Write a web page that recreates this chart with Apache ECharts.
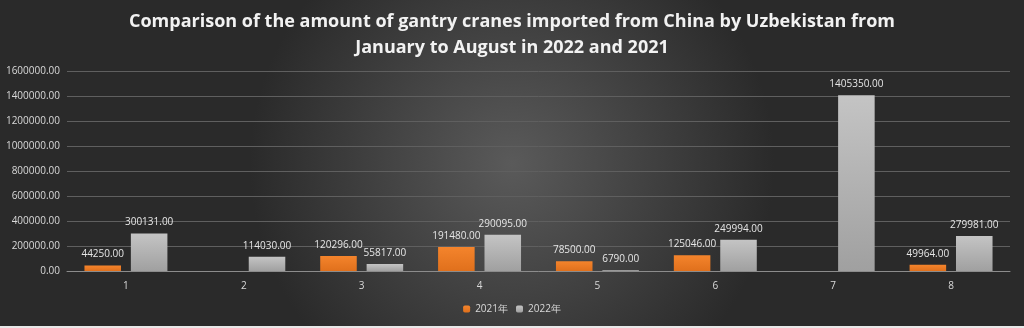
<!DOCTYPE html>
<html>
<head>
<meta charset="utf-8">
<script src="https://cdn.jsdelivr.net/npm/echarts@6/dist/echarts.min.js"></script>
<style>
  html, body { margin: 0; padding: 0; }
  #chart { width: 1024px; height: 328px; }
</style>
</head>
<body>
<div id="chart"></div>
<script>
// Monthly import amounts (January–August)
const months = ['1', '2', '3', '4', '5', '6', '7', '8'];
const values2021 = [44250, null, 120296, 191480, 78500, 125046, null, 49964];
const values2022 = [300131, 114030, 55817, 290095, 6790, 249994, 1405350, 279981];
const seriesNames = ['2021年', '2022年'];

const chart = echarts.init(document.getElementById('chart'));

const labelStyle = {
  show: true,
  position: 'top',
  distance: 6,
  color: '#e6e6e6',
  fontSize: 10,
  fontFamily: 'Open Sans',
  formatter: p => p.value == null ? '' : Number(p.value).toFixed(2)
};

chart.setOption({
  backgroundColor: {
    type: 'radial', x: 0.5, y: 0.5, r: 0.8,
    colorStops: [
      { offset: 0, color: '#5a5a5a' },
      { offset: 1, color: '#2a2a2a' }
    ]
  },
  graphic: [{
    type: 'rect',
    left: 0, bottom: 0,
    shape: { width: 1024, height: 2 },
    style: { fill: '#e8e8e8' },
    silent: true
  }],
  title: {
    text: 'Comparison of the amount of gantry cranes imported from China by Uzbekistan from\nJanuary to August in 2022 and 2021',
    left: 'center',
    top: 4,
    textStyle: {
      color: '#f2f2f2',
      fontSize: 18,
      fontWeight: 'bold',
      fontFamily: 'Open Sans',
      lineHeight: 26
    }
  },
  legend: {
    bottom: 9,
    left: 'center',
    itemWidth: 7,
    itemHeight: 7,
    itemGap: 8,
    textStyle: { color: '#d9d9d9', fontSize: 10, fontFamily: 'Open Sans' },
    data: seriesNames
  },
  grid: { left: 67, right: 14, top: 71, bottom: 57 },
  xAxis: {
    type: 'category',
    data: months,
    axisLine: { lineStyle: { color: '#8c8c8c', width: 1 } },
    axisTick: { show: false },
    axisLabel: { color: '#d9d9d9', fontSize: 10, margin: 10, fontFamily: 'Open Sans' }
  },
  yAxis: {
    type: 'value',
    min: 0,
    max: 1600000,
    interval: 200000,
    axisLine: { show: false },
    axisTick: { show: false },
    axisLabel: {
      color: '#d9d9d9', fontSize: 10, margin: 7, fontFamily: 'Open Sans',
      formatter: v => v.toFixed(2)
    },
    splitLine: { lineStyle: { color: '#5f5f5f', width: 1 } }
  },
  series: [
    {
      name: seriesNames[0],
      type: 'bar',
      data: values2021,
      barWidth: '31%',
      barGap: '27%',
      itemStyle: {
        color: {
          type: 'linear', x: 0, y: 0, x2: 0, y2: 1,
          colorStops: [
            { offset: 0, color: '#f4842c' },
            { offset: 1, color: '#e0701c' }
          ]
        }
      },
      label: labelStyle
    },
    {
      name: seriesNames[1],
      type: 'bar',
      data: values2022,
      barWidth: '31%',
      itemStyle: {
        color: {
          type: 'linear', x: 0, y: 0, x2: 0, y2: 1,
          colorStops: [
            { offset: 0, color: '#c4c4c4' },
            { offset: 1, color: '#a0a0a0' }
          ]
        }
      },
      label: labelStyle
    }
  ]
});
</script>
</body>
</html>
